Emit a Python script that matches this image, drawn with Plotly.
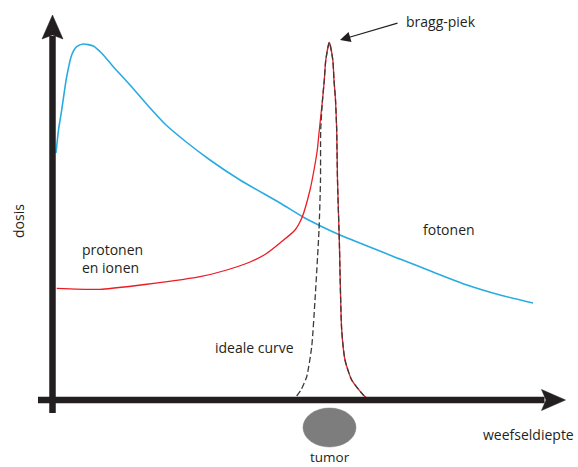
import plotly.graph_objects as go

# Depth (x) and dose (y) in arbitrary units, origin at the axes crossing
photon_depth = [3.5, 6, 9.2, 14.2, 19.2, 24.2, 30.8, 40.8, 49.2, 60.8, 77.5, 95.8, 112.5, 132.5, 157.5, 187.5, 227.5, 250.5, 267.5, 287.5, 347.5, 380.5, 414.5, 447.5, 480.5]
photon_dose = [247, 270, 290, 323.3, 345, 353.3, 356, 354, 346.7, 333.3, 315, 294, 276, 259, 240, 220, 197, 183, 174.3, 165, 141, 128, 115, 105, 97]

proton_depth = [4.2, 47.5, 80.5, 147.5, 172.5, 197.5, 212.5, 227.5, 242.5, 249.8, 257.5, 261.5, 264.8, 266.8, 270, 271.8, 273.3, 276.8, 280.3, 281.5, 283, 284.2, 285, 286.8, 289.2, 292.5, 299.2, 310.8, 314.5]
proton_dose = [111.7, 110.7, 114, 123.3, 129.5, 138, 145.5, 157, 170, 183.3, 210, 230, 250, 270, 300, 320, 340, 357.5, 340, 320, 300, 270, 220, 160, 70, 40, 20, 5, 2]

ideal_depth = [244.2, 248.5, 254.2, 259.2, 262.5, 266.5, 268, 268.2, 270, 271.8, 273.3, 276.8, 280.3, 281.5, 283, 284.2, 285, 286.8, 289.2, 292.5, 299.2, 310.8, 314.5]
ideal_dose = [4, 10, 23.3, 53.3, 100, 170, 220, 270, 300, 320, 340, 357.5, 340, 320, 300, 270, 220, 160, 70, 40, 20, 5, 2]

FONT = "Open Sans"
TXT = "#231f20"
AX = "#231f20"

fig = go.Figure()
fig.add_trace(go.Scatter(x=photon_depth, y=photon_dose, mode="lines",
                         line=dict(color="#29abe2", width=1.6, shape="spline", smoothing=0.6),
                         hoverinfo="skip"))
fig.add_trace(go.Scatter(x=proton_depth, y=proton_dose, mode="lines",
                         line=dict(color="#ec1c24", width=1.3, shape="spline", smoothing=0.6),
                         hoverinfo="skip"))
fig.add_trace(go.Scatter(x=ideal_depth, y=ideal_dose, mode="lines",
                         line=dict(color="#3a3a3a", width=1.3, dash="6px,3px", shape="spline", smoothing=0.6),
                         hoverinfo="skip"))

shapes = [
    # y axis shaft
    dict(type="line", x0=0, x1=0, y0=-13, y1=364, line=dict(color=AX, width=6.5)),
    # x axis shaft
    dict(type="line", x0=-14.5, x1=492, y0=0, y1=0, line=dict(color=AX, width=6.5)),
    # arrowheads
    dict(type="path", path="M 0 385 L 10.5 361 L 0 365 L -10.5 361 Z",
         fillcolor=AX, line=dict(color=AX, width=0.5)),
    dict(type="path", path="M 513 0 L 489 10.5 L 493.5 0 L 489 -10.5 Z",
         fillcolor=AX, line=dict(color=AX, width=0.5)),
    # tumor
    dict(type="circle", x0=250.5, x1=303.5, y0=-47, y1=-8, fillcolor="#7d7d7d",
         line=dict(color="#7d7d7d", width=0.5), layer="above"),
]

def txt(x, y, s, size=14, **kw):
    return dict(x=x, y=y, xref="x", yref="y", text=s, showarrow=False,
                font=dict(family=FONT, size=size, color=TXT), **kw)

annotations = [
    txt(351.5, 379, "bragg-piek", xanchor="left"),
    txt(-34.5, 179, "dosis", textangle=-90),
    txt(27.5, 141.5, "protonen<br>en ionen", xanchor="left", align="left"),
    txt(396.5, 171, "fotonen"),
    txt(201.5, 52.5, "ideale curve"),
    txt(476, -34, "weefseldiepte"),
    txt(277, -57, "tumor", size=13.5),
    dict(x=287.5, y=360, ax=346.5, ay=377.3, xref="x", yref="y", axref="x", ayref="y",
         text="", showarrow=True, arrowhead=2, arrowsize=1.9, arrowwidth=1.1,
         arrowcolor=TXT),
]

fig.update_layout(
    width=578, height=467,
    margin=dict(l=0, r=0, t=0, b=0),
    paper_bgcolor="white", plot_bgcolor="white",
    showlegend=False,
    xaxis=dict(range=[-52.5, 525.5], visible=False, fixedrange=True),
    yaxis=dict(range=[-67, 400], visible=False, fixedrange=True),
    shapes=shapes, annotations=annotations,
)

fig.write_html("out.html", config={"displayModeBar": False},
               post_script="document.body.style.margin='0';document.body.style.overflow='hidden';")
